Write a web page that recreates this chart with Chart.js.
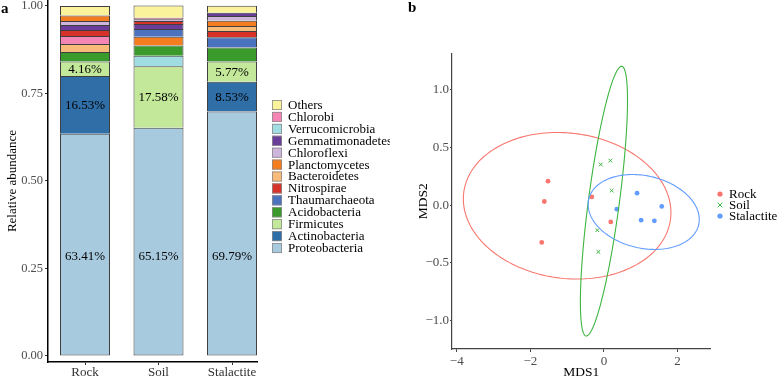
<!DOCTYPE html>
<html><head><meta charset="utf-8">
<script src="https://cdn.jsdelivr.net/npm/chart.js@4.4.1/dist/chart.umd.min.js"></script>
<style>
html,body{margin:0;padding:0;background:#fff;width:778px;height:377px;overflow:hidden;}
#wa{position:absolute;left:0;top:0;width:390px;height:377px;}
#wb{position:absolute;left:390px;top:0;width:388px;height:377px;}
.pl{position:absolute;font:bold 15px "Liberation Serif",serif;color:#000;line-height:15px;}
</style></head><body>
<div id="wa"><canvas id="ca" width="390" height="377"></canvas></div>
<div id="wb"><canvas id="cb" width="388" height="377"></canvas></div>
<div class="pl" style="left:1px;top:1px">a</div>
<div class="pl" style="left:408px;top:0px">b</div>
<script>
// ---------- Panel a data ----------
const samples = ['Rock', 'Soil', 'Stalactite'];
const phyla = ['Proteobacteria','Actinobacteria','Firmicutes','Acidobacteria','Thaumarchaeota','Nitrospirae','Bacteroidetes','Planctomycetes','Chloroflexi','Gemmatimonadetes','Verrucomicrobia','Chlorobi','Others'];
// relative abundance per phylum: [Rock, Soil, Stalactite]
const proteobacteria   = [0.6341, 0.6515, 0.6979];
const actinobacteria   = [0.1653, 0,      0.0853];
const firmicutes       = [0.0416, 0.1758, 0.0577];
const acidobacteria    = [0.0270, 0.0292, 0.0400];
const thaumarchaeota   = [0,      0.0215, 0.0290];
const nitrospirae      = [0.0172, 0.0092, 0.0180];
const bacteroidetes    = [0.0225, 0,      0.0143];
const planctomycetes   = [0.0152, 0.0252, 0.0152];
const chloroflexi      = [0.0114, 0.0043, 0.0134];
const gemmatimonadetes = [0.0143, 0.0143, 0.0094];
const verrucomicrobia  = [0,      0.0300, 0];
const chlorobi         = [0.0232, 0.0043, 0];
const others           = [0.0277, 0.0350, 0.0195];
// stacking order inside each bar, bottom to top
const rockOrder = ['Proteobacteria','Actinobacteria','Firmicutes','Acidobacteria','Bacteroidetes','Chlorobi','Nitrospirae','Gemmatimonadetes','Chloroflexi','Planctomycetes','Others'];
const soilOrder = ['Proteobacteria','Firmicutes','Verrucomicrobia','Acidobacteria','Planctomycetes','Thaumarchaeota','Gemmatimonadetes','Nitrospirae','Chloroflexi','Chlorobi','Others'];
const stalactiteOrder = ['Proteobacteria','Actinobacteria','Firmicutes','Acidobacteria','Thaumarchaeota','Nitrospirae','Bacteroidetes','Planctomycetes','Chloroflexi','Gemmatimonadetes','Others'];
const labelledPhyla = ['Proteobacteria','Actinobacteria','Firmicutes'];
const bottomLabelLevel = 0.286;
const abundanceTicks = [0, 0.25, 0.5, 0.75, 1.0];

// ---------- Panel b data ----------
const groups = ['Rock', 'Soil', 'Stalactite'];
const rockMDS1 = [-1.52, -1.62, -0.33, 0.185, -1.69];
const rockMDS2 = [0.208, 0.032, 0.072, -0.145, -0.323];
const soilMDS1 = [-0.087, 0.174, 0.21, -0.18, -0.15];
const soilMDS2 = [0.353, 0.387, 0.127, -0.217, -0.405];
const stalactiteMDS1 = [0.90, 0.35, 1.57, 1.01, 1.37];
const stalactiteMDS2 = [0.104, -0.035, -0.011, -0.13, -0.136];
// 95% ellipses per group (data units): centre, half width, half height, y-offset at rightmost point
const ellipseCentreX = [-1.0, 0.0, 1.08];
const ellipseCentreY = [-0.005, 0.035, -0.059];
const ellipseHalfWidth = [2.82, 0.64, 1.51];
const ellipseHalfHeight = [0.636, 1.17, 0.325];
const ellipseTiltAtRight = [-0.06, 0.875, -0.065];
const mds1Ticks = [-4, -2, 0, 2];
const mds2Ticks = [-1, -0.5, 0, 0.5, 1];

// ---------- styles ----------
const FONT = '"Liberation Serif", "Times New Roman", serif';
const phylumColors = ['#a8cadf','#2f6ea6','#c3e89a','#3a9a2c','#4a72bf','#d6322a','#f9bb7a','#f47d20','#cdb5dc','#6a3d9a','#9fdde2','#f585b4','#fbf29c'];
const groupColors = ['#F8766D', '#3db541', '#619CFF'];

const valueOf = {
  Proteobacteria: proteobacteria, Actinobacteria: actinobacteria, Firmicutes: firmicutes,
  Acidobacteria: acidobacteria, Thaumarchaeota: thaumarchaeota, Nitrospirae: nitrospirae,
  Bacteroidetes: bacteroidetes, Planctomycetes: planctomycetes, Chloroflexi: chloroflexi,
  Gemmatimonadetes: gemmatimonadetes, Verrucomicrobia: verrucomicrobia, Chlorobi: chlorobi, Others: others
};
const orders = [rockOrder, soilOrder, stalactiteOrder];

const barDatasets = phyla.map((p, k) => {
  const data = [];
  samples.forEach((s, i) => {
    const ord = orders[i];
    const idx = ord.indexOf(p);
    const v = valueOf[p][i];
    if (idx < 0 || !v) return;
    let lo = 0;
    for (let j = 0; j < idx; j++) lo += valueOf[ord[j]][i];
    data.push({x: i + 1, y: [lo, lo + v], v: v});
  });
  return {
    label: p, data: data, backgroundColor: phylumColors[k],
    borderColor: '#3f3f3f', borderWidth: 1,
    borderSkipped: p === 'Proteobacteria' ? false : 'bottom',
    grouped: false, barThickness: 50, inflateAmount: 0
  };
});

const pctLabels = {
  id: 'pctLabels',
  afterDatasetsDraw(chart) {
    const ctx = chart.ctx, ys = chart.scales.y;
    ctx.save();
    ctx.font = '13px ' + FONT; ctx.fillStyle = '#000';
    ctx.textAlign = 'center'; ctx.textBaseline = 'middle';
    chart.data.datasets.forEach((ds, di) => {
      if (!labelledPhyla.includes(ds.label)) return;
      const meta = chart.getDatasetMeta(di);
      ds.data.forEach((d, j) => {
        const el = meta.data[j];
        const mid = ds.label === 'Proteobacteria' ? bottomLabelLevel : (d.y[0] + d.y[1]) / 2;
        ctx.fillText((d.v * 100).toFixed(2) + '%', el.x, ys.getPixelForValue(mid) + 1);
      });
    });
    ctx.restore();
  }
};

const leftLegend = {
  id: 'leftLegend',
  afterDraw(chart) {
    const ctx = chart.ctx;
    const items = chart.data.datasets.slice().reverse();
    ctx.save();
    ctx.font = '13px ' + FONT; ctx.textBaseline = 'middle'; ctx.textAlign = 'left';
    items.forEach((ds, i) => {
      const cy = 105 + i * 11.92;
      ctx.fillStyle = ds.backgroundColor;
      ctx.fillRect(272, cy - 5, 10, 10);
      ctx.strokeStyle = '#8a8a8a'; ctx.lineWidth = 0.8;
      ctx.strokeRect(272.4, cy - 4.6, 9.2, 9.2);
      ctx.fillStyle = '#000';
      ctx.fillText(ds.label, 288, cy + 0.5);
    });
    ctx.restore();
  }
};

new Chart(document.getElementById('ca'), {
  type: 'bar',
  data: { datasets: barDatasets },
  options: {
    responsive: false, animation: false,
    layout: { padding: { left: 0, right: 133, top: 0, bottom: 0 } },
    plugins: { legend: { display: false }, tooltip: { enabled: false } },
    scales: {
      x: {
        type: 'linear', min: 0.4966, max: 3.34, offset: false, stacked: false,
        afterBuildTicks: s => { s.ticks = samples.map((n, i) => ({ value: i + 1 })); },
        ticks: { autoSkip: false, maxRotation: 0, padding: 0, color: '#333', font: { family: FONT, size: 13 },
                 callback: v => samples[Math.round(v) - 1] },
        grid: { display: true, offset: false, drawOnChartArea: false, tickLength: 3, tickColor: '#333', tickWidth: 1 },
        border: { display: true, color: '#000', width: 1.5 },
        afterFit: s => { s.height = 15; s.paddingLeft = 0; s.paddingRight = 0; }
      },
      y: {
        type: 'linear', min: -0.0172, max: 1.0163, stacked: false,
        afterBuildTicks: s => { s.ticks = abundanceTicks.map(v => ({ value: v })); },
        ticks: { autoSkip: false, padding: 2, color: '#4d4d4d', font: { family: FONT, size: 12.5 },
                 callback: v => Number(v).toFixed(2) },
        grid: { display: true, drawOnChartArea: false, tickLength: 3, tickColor: '#333', tickWidth: 1 },
        border: { display: true, color: '#000', width: 1.5 },
        title: { display: true, text: 'Relative abundance', color: '#000', font: { family: FONT, size: 13 }, padding: { top: 5, bottom: 0 } },
        afterFit: s => { s.width = 48; s.paddingTop = 0; s.paddingBottom = 0; }
      }
    }
  },
  plugins: [pctLabels, leftLegend]
});

// ---------- Panel b ----------
const fmtMinus = (v, d) => { const s = Math.abs(v).toFixed(d); return v < 0 ? '\u2212' + s : s; };
const ellipses = {
  id: 'ellipses',
  afterDatasetsDraw(chart) {
    const ctx = chart.ctx, xs = chart.scales.x, ys = chart.scales.y;
    ctx.save();
    ctx.lineWidth = 1.1;
    groups.forEach((g, k) => {
      const l11 = ellipseHalfWidth[k], l21 = ellipseTiltAtRight[k];
      const l22 = Math.sqrt(ellipseHalfHeight[k] ** 2 - l21 ** 2);
      ctx.strokeStyle = groupColors[k];
      ctx.beginPath();
      for (let a = 0; a <= 360; a += 2) {
        const t = a * Math.PI / 180;
        const px = xs.getPixelForValue(ellipseCentreX[k] + l11 * Math.cos(t));
        const py = ys.getPixelForValue(ellipseCentreY[k] + l21 * Math.cos(t) + l22 * Math.sin(t));
        if (a === 0) ctx.moveTo(px, py); else ctx.lineTo(px, py);
      }
      ctx.closePath();
      ctx.stroke();
    });
    ctx.restore();
  }
};
const rightLegend = {
  id: 'rightLegend',
  afterDraw(chart) {
    const ctx = chart.ctx;
    ctx.save();
    ctx.font = '13px ' + FONT; ctx.textBaseline = 'middle'; ctx.textAlign = 'left';
    chart.data.datasets.forEach((ds, i) => {
      const cy = 194 + i * 11;
      const mx = 330;
      if (ds.pointStyle === 'crossRot') {
        ctx.strokeStyle = ds.borderColor; ctx.lineWidth = 1;
        ctx.beginPath();
        ctx.moveTo(mx - 2.3, cy - 2.3); ctx.lineTo(mx + 2.3, cy + 2.3);
        ctx.moveTo(mx + 2.3, cy - 2.3); ctx.lineTo(mx - 2.3, cy + 2.3);
        ctx.stroke();
      } else {
        ctx.fillStyle = ds.backgroundColor;
        ctx.beginPath(); ctx.arc(mx, cy, 2.6, 0, Math.PI * 2); ctx.fill();
      }
      ctx.fillStyle = '#000';
      ctx.fillText(ds.label, 339, cy + 0.5);
    });
    ctx.restore();
  }
};
const mk = (xs, ys) => xs.map((x, i) => ({ x: x, y: ys[i] }));
new Chart(document.getElementById('cb'), {
  type: 'scatter',
  data: {
    datasets: [
      { label: groups[0], data: mk(rockMDS1, rockMDS2), pointStyle: 'circle', pointRadius: 2.4, borderWidth: 0,
        backgroundColor: groupColors[0], borderColor: groupColors[0] },
      { label: groups[1], data: mk(soilMDS1, soilMDS2), pointStyle: 'crossRot', pointRadius: 2.6, borderWidth: 1,
        backgroundColor: groupColors[1], borderColor: groupColors[1] },
      { label: groups[2], data: mk(stalactiteMDS1, stalactiteMDS2), pointStyle: 'circle', pointRadius: 2.4, borderWidth: 0,
        backgroundColor: groupColors[2], borderColor: groupColors[2] }
    ]
  },
  options: {
    responsive: false, animation: false,
    layout: { padding: { left: 0, right: 67.3, top: 53.3, bottom: 0 } },
    plugins: { legend: { display: false }, tooltip: { enabled: false } },
    scales: {
      x: {
        type: 'linear', min: -4.128, max: 2.90,
        afterBuildTicks: s => { s.ticks = mds1Ticks.map(v => ({ value: v })); },
        ticks: { autoSkip: false, maxRotation: 0, padding: 2, color: '#4d4d4d', font: { family: FONT, size: 13 },
                 callback: v => fmtMinus(v, 0) },
        grid: { display: true, drawOnChartArea: false, tickLength: 3, tickColor: '#444', tickWidth: 1 },
        border: { display: true, color: '#444', width: 1.2 },
        title: { display: true, text: 'MDS1', color: '#000', font: { family: FONT, size: 13.5, lineHeight: 1 }, padding: { top: 0, bottom: -2 } },
        afterFit: s => { s.height = 28; s.paddingLeft = 0; s.paddingRight = 0; }
      },
      y: {
        type: 'linear', min: -1.248, max: 1.318,
        afterBuildTicks: s => { s.ticks = mds2Ticks.map(v => ({ value: v })); },
        ticks: { autoSkip: false, padding: 1, color: '#4d4d4d', font: { family: FONT, size: 13 },
                 callback: v => fmtMinus(v, 1) },
        grid: { display: true, drawOnChartArea: false, tickLength: 2, tickColor: '#444', tickWidth: 1 },
        border: { display: true, color: '#444', width: 1.2 },
        title: { display: true, text: 'MDS2', color: '#000', font: { family: FONT, size: 13.5 }, padding: { top: 25, bottom: 0 } },
        afterFit: s => { s.width = 62; s.paddingTop = 0; s.paddingBottom = 0; }
      }
    }
  },
  plugins: [ellipses, rightLegend]
});
</script>
</body></html>
